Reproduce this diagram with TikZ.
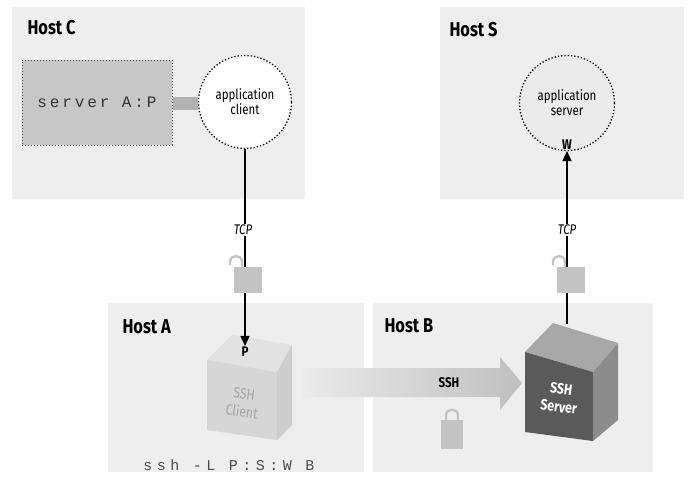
\documentclass[tikz,border=0pt]{standalone}
\usepackage{fontspec}
\setsansfont{Fira Sans}[FakeStretch=0.82]
\newfontfamily\cmdfont{Liberation Mono}[LetterSpace=30]
\newfontfamily\boxfont{Liberation Mono}[LetterSpace=18]
\usetikzlibrary{arrows.meta,shapes.geometric}
\definecolor{panel}{HTML}{EEEEEE}
\definecolor{lockgray}{HTML}{C4C4C4}
\definecolor{srvfront}{HTML}{5A5A5A}
\definecolor{srvtop}{HTML}{A8A8A8}
\definecolor{srvside}{HTML}{8C8C8C}
\definecolor{clifront}{HTML}{D6D6D6}
\definecolor{clitop}{HTML}{E2E2E2}
\definecolor{cliside}{HTML}{CDCDCD}
\tikzset{
  hostpanel/.style={fill=panel, draw=none},
  hostlabel/.style={anchor=west, font=\sffamily\bfseries\fontsize{20}{20}\selectfont},
  appcircle/.style={circle, draw=black, line width=1.3pt, dotted, minimum size=93pt, inner sep=0pt, align=center,
    font=\sffamily\fontsize{14}{15}\selectfont},
  conn/.style={line width=1.4pt, draw=black},
  tip/.style={-{Triangle[width=9pt,length=10pt]}},
  proto/.style={font=\sffamily\itshape\fontsize{14}{14}\selectfont},
  portlbl/.style={font=\sffamily\bfseries\fontsize{14}{14}\selectfont, inner sep=1pt},
  padlock/.pic={
    \draw[lockgray, line width=2.4pt] (-6,-12) -- (-6,-18) .. controls (-6,-26) and (-18,-26) .. (-18,-18) -- (-18,-15);
    \fill[lockgray] (-14,-13) rectangle (14,13);
  },
  closedlock/.pic={
    \draw[lockgray, line width=2.4pt] (-6,-12) -- (-6,-18) .. controls (-6,-25) and (6,-25) .. (6,-18) -- (6,-12);
    \fill[lockgray] (-11,-13) rectangle (11,16);
  }
}
\begin{document}
\begin{tikzpicture}[x=1pt, y=-1pt]
\useasboundingbox (0,0) rectangle (690,477);
\fill[white] (0,0) rectangle (690,477);

% host panels
\fill[hostpanel] (12,7) rectangle (305,199);
\fill[hostpanel] (440,7) rectangle (684,199);
\fill[hostpanel] (108,303) rectangle (364,472);
\fill[hostpanel] (373,303) rectangle (653,472);

\node[hostlabel] (hc) at (24,28) {Host C};
\node[hostlabel] (hs) at (446,30) {Host S};
\node[hostlabel] (ha) at (119,327) {Host A};
\node[hostlabel] (hb) at (381,326) {Host B};

% Host C: server box and application client
\node[draw=black!70, dotted, line width=1pt, fill=black!22, minimum width=150pt, minimum height=85pt, inner sep=0pt,
      font=\boxfont\fontsize{16}{16}\selectfont, text=black!80] (srvap) at (97,102.5) {server A:P};
\node[appcircle, fill=white] (cli) at (245,102) {application\\client};
\fill[black!30] (srvap.east |- 0,97) rectangle (cli.west |- 0,110);

% Host S: application server
\node[appcircle, fill=black!8, minimum size=95pt] (srv) at (567,103) {application\\server};
\node[portlbl] (w) at (567,145) {W};

% SSH client cube (Host A)
\fill[clitop]  (207,360) -- (232,335) -- (292,345) -- (277,372) -- cycle;
\fill[clifront] (207,360) -- (277,372) -- (277,440) -- (207,430) -- cycle;
\fill[cliside] (277,372) -- (292,345) -- (292,425) -- (277,440) -- cycle;
\node[portlbl] (p) at (245,352) {P};
\node[rotate=-8, align=center, text=black!35, font=\sffamily\fontsize{15}{18}\selectfont] (sshc) at (243,403) {SSH\\Client};

% SSH server cube (Host B)
\fill[srvtop]  (525,352) -- (553,323) -- (618,343) -- (593,372) -- cycle;
\fill[srvfront] (525,352) -- (593,372) -- (593,441) -- (525,432) -- cycle;
\fill[srvside] (593,372) -- (618,343) -- (618,420) -- (593,441) -- cycle;
\coordinate (srvtopc) at (567,324);
\node[rotate=-8, align=center, text=white, font=\sffamily\bfseries\fontsize{15}{18}\selectfont] (sshs) at (560,398) {SSH\\Server};

% connections
\draw[conn, tip] (cli.south) -- (p.north);
\draw[conn, tip] (srvtopc) -- (w.south);

% TCP labels and locks
\node[proto, fill=white, inner sep=1pt] (tcp1) at (243,230) {TCP};
\node[proto, fill=white, inner sep=1pt] (tcp2) at (567,230) {TCP};
\pic at (248,280) {padlock};
\pic at (571,280) {padlock};

% SSH tunnel arrow
\path[left color=black!8, right color=black!25]
  (303,368) -- (500,368) -- (500,357) -- (522,383) -- (500,410) -- (500,397) -- (303,397) -- cycle;
\node[font=\sffamily\bfseries\fontsize{14}{14}\selectfont] (sshlbl) at (449,383) {SSH};
\pic at (452,433) {closedlock};

% command line
\node[font=\cmdfont\fontsize{15}{15}\selectfont, text=black!70] (cmd) at (229,465) {ssh -L P:S:W B};
\end{tikzpicture}
\end{document}
